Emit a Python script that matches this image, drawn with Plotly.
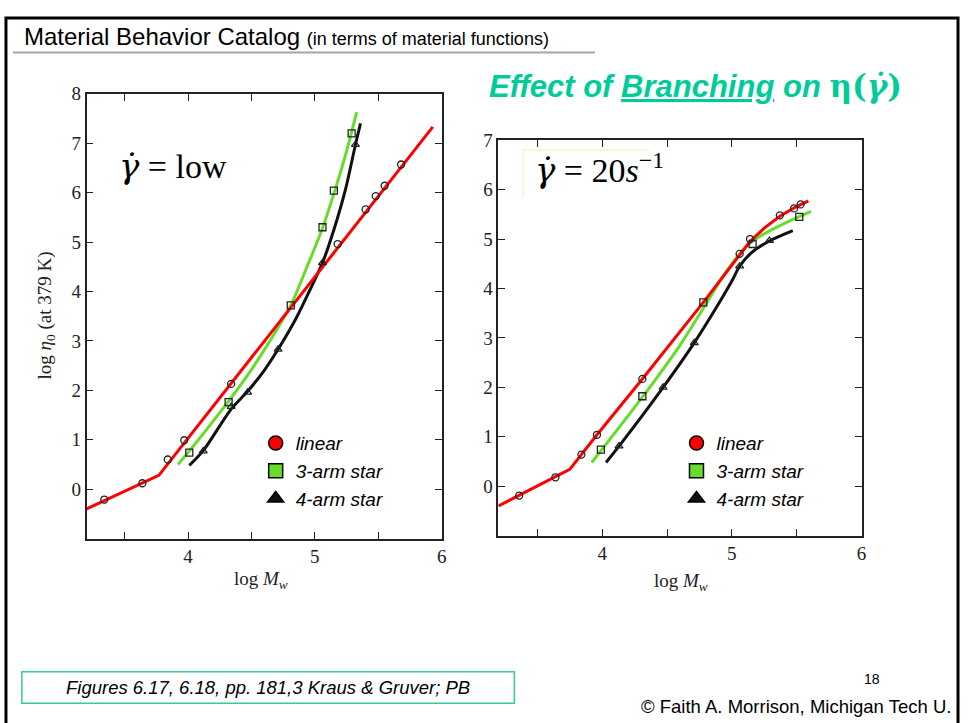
import plotly.graph_objects as go

# ---- zero-shear (low rate) viscosity vs molecular weight ----
lin_low_x = [3.20, 3.77, 5.93]
lin_low_y = [-0.40, 0.28, 7.33]
arm3_low_x = [3.92, 4.00, 4.15, 4.32, 4.50, 4.66, 4.81, 4.93, 5.06, 5.15, 5.24, 5.33]
arm3_low_y = [0.50, 0.74, 1.22, 1.78, 2.42, 3.06, 3.72, 4.45, 5.28, 5.98, 6.75, 7.63]
arm4_low_x = [4.01, 4.12, 4.34, 4.47, 4.60, 4.71, 4.85, 4.97, 5.06, 5.15, 5.24, 5.32, 5.36]
arm4_low_y = [0.48, 0.78, 1.62, 1.98, 2.40, 2.83, 3.45, 4.08, 4.58, 5.25, 6.05, 6.97, 7.40]

circ_low_x = [3.34, 3.64, 3.84, 3.97, 4.34, 5.18, 5.40, 5.48, 5.55, 5.68]
circ_low_y = [-0.21, 0.12, 0.60, 0.99, 2.13, 4.96, 5.66, 5.93, 6.14, 6.57]
sq_low_x = [4.01, 4.32, 4.81, 5.06, 5.15, 5.29]
sq_low_y = [0.74, 1.76, 3.72, 5.30, 6.04, 7.20]
tri_low_x = [4.12, 4.34, 4.47, 4.71, 5.06, 5.32]
tri_low_y = [0.77, 1.67, 1.96, 2.83, 4.58, 6.97]

# ---- viscosity at 20 1/s ----
lin_hi_x = [3.20, 3.75, 3.96, 4.31, 4.78, 5.00, 5.07, 5.14, 5.25, 5.37, 5.48, 5.59]
lin_hi_y = [-0.40, 0.34, 1.04, 2.17, 3.72, 4.48, 4.72, 4.95, 5.22, 5.46, 5.63, 5.77]
arm3_hi_x = [3.92, 4.31, 4.60, 4.78, 4.95, 5.06, 5.14, 5.22, 5.37, 5.50, 5.61]
arm3_hi_y = [0.48, 1.80, 2.85, 3.60, 4.32, 4.70, 4.92, 5.06, 5.27, 5.43, 5.56]
arm4_hi_x = [4.03, 4.13, 4.47, 4.71, 4.90, 5.00, 5.06, 5.15, 5.29, 5.47]
arm4_hi_y = [0.48, 0.81, 2.00, 2.90, 3.70, 4.15, 4.45, 4.72, 4.96, 5.17]

circ_hi_x = [3.36, 3.64, 3.84, 3.96, 4.31, 5.06, 5.14, 5.37, 5.48, 5.53]
circ_hi_y = [-0.19, 0.18, 0.64, 1.04, 2.17, 4.70, 5.00, 5.48, 5.62, 5.70]
sq_hi_x = [3.99, 4.31, 4.78, 5.16, 5.52]
sq_hi_y = [0.74, 1.82, 3.72, 4.90, 5.45]
tri_hi_x = [4.13, 4.47, 4.71, 5.06, 5.29]
tri_hi_y = [0.81, 2.00, 2.90, 4.45, 4.97]

series_names = ["linear", "3-arm star", "4-arm star"]
x_tick_vals = [3.5, 4, 4.5, 5, 5.5, 6]
x_tick_text = ["", "4", "", "5", "", "6"]

W, H = 968, 723
RED, GREEN, BLACK = "#ff0000", "#66dd2a", "#111111"
SERIF = "Liberation Serif, Times New Roman, serif"
SANS = "Liberation Sans, Arial, sans-serif"
GDOT = "<span style='font-family:DejaVu Serif'><i>γ̇</i></span>"


def px(x):
    return x / W


def py(y):
    return 1 - y / H


fig = go.Figure()


def add_panel(xa, ya, legend, lines, points):
    # fitted curves
    for (xs, ys, col, shape) in lines:
        fig.add_trace(go.Scatter(x=xs, y=ys, mode="lines", xaxis=xa, yaxis=ya,
                                 line=dict(color=col, width=3, shape=shape, smoothing=0.8),
                                 showlegend=False, hoverinfo="skip"))
    # measured points (open symbols)
    for (xs, ys, sym) in points:
        fig.add_trace(go.Scatter(x=xs, y=ys, mode="markers", xaxis=xa, yaxis=ya,
                                 marker=dict(symbol=sym, size=7, color="#222222",
                                             line=dict(width=1.3, color="#222222")),
                                 showlegend=False, hoverinfo="skip"))
    # legend keys
    keys = [("circle", RED), ("square", GREEN), ("triangle-up", BLACK)]
    for name, (sym, col) in zip(series_names, keys):
        fig.add_trace(go.Scatter(x=[None], y=[None], mode="markers", xaxis=xa, yaxis=ya,
                                 name="<i>" + name + "</i>", legend=legend,
                                 marker=dict(symbol=sym, size=14, color=col,
                                             line=dict(width=1.5, color="black"))))


add_panel("x", "y", "legend",
          [(arm4_low_x, arm4_low_y, BLACK, "spline"),
           (arm3_low_x, arm3_low_y, GREEN, "spline"),
           (lin_low_x, lin_low_y, RED, "linear")],
          [(circ_low_x, circ_low_y, "circle-open"),
           (sq_low_x, sq_low_y, "square-open"),
           (tri_low_x, tri_low_y, "triangle-up-open")])

add_panel("x2", "y2", "legend2",
          [(arm4_hi_x, arm4_hi_y, BLACK, "spline"),
           (arm3_hi_x, arm3_hi_y, GREEN, "spline"),
           (lin_hi_x, lin_hi_y, RED, "linear")],
          [(circ_hi_x, circ_hi_y, "circle-open"),
           (sq_hi_x, sq_hi_y, "square-open"),
           (tri_hi_x, tri_hi_y, "triangle-up-open")])

axis_common = dict(showgrid=False, zeroline=False, showline=True, linecolor="#222222",
                   linewidth=1.5, mirror="ticks", ticks="inside", ticklen=7,
                   tickcolor="#222222", tickfont=dict(family=SERIF, size=19, color="#222222"))

legend_style = dict(xanchor="left", yanchor="top", bgcolor="rgba(0,0,0,0)", tracegroupgap=0,
                    font=dict(family=SANS, size=19, color="black"))

fig.update_layout(
    width=W, height=H, margin=dict(l=0, r=0, t=0, b=0),
    paper_bgcolor="white", plot_bgcolor="white",
    xaxis=dict(domain=[px(87), px(444)], range=[3.2, 6], anchor="y",
               tickvals=x_tick_vals, ticktext=x_tick_text, **axis_common),
    yaxis=dict(domain=[py(536), py(85)], range=[-1, 8], anchor="x",
               tickvals=list(range(0, 9)), **axis_common),
    xaxis2=dict(domain=[px(501), px(866)], range=[3.2, 6], anchor="y2",
                tickvals=x_tick_vals, ticktext=x_tick_text, **axis_common),
    yaxis2=dict(domain=[py(533), py(132)], range=[-1, 7], anchor="x2",
                tickvals=list(range(0, 8)), **axis_common),
    legend=dict(x=px(257), y=py(420), **legend_style),
    legend2=dict(x=px(680), y=py(420), **legend_style),
)

annotations = [
    dict(x=px(22), y=py(27), xanchor="left", yanchor="middle",
         text="Material Behavior Catalog <span style='font-size:18px'>(in terms of material functions)</span>",
         font=dict(family=SANS, size=24, color="black")),
    dict(x=px(490), y=py(77), xanchor="left", yanchor="middle",
         text="<b><i>Effect of <u>Branching</u> on </i>"
              "<span style='font-family:DejaVu Serif'>η(<i>γ̇</i>)</span></b>",
         font=dict(family=SANS, size=31, color="#00cc99")),
    dict(x=px(118), y=py(158), xanchor="left", yanchor="middle",
         text=GDOT + " = low", font=dict(family=SERIF, size=34, color="black")),
    dict(x=px(536), y=py(161), xanchor="left", yanchor="middle",
         text=GDOT + " = 20<i>s</i><sup>−1</sup>", font=dict(family=SERIF, size=34, color="black")),
    dict(x=px(46), y=py(310), xanchor="center", yanchor="middle", textangle=-90,
         text="log <i>η</i><sub>0</sub> (at 379 K)", font=dict(family=SERIF, size=19, color="#222222")),
    dict(x=px(262), y=py(578), xanchor="center", yanchor="middle",
         text="log <i>M<sub>w</sub></i>", font=dict(family=SERIF, size=19, color="#222222")),
    dict(x=px(685), y=py(580), xanchor="center", yanchor="middle",
         text="log <i>M<sub>w</sub></i>", font=dict(family=SERIF, size=19, color="#222222")),
    dict(x=px(269), y=py(687), xanchor="center", yanchor="middle",
         text="<i>Figures 6.17, 6.18, pp. 181,3 Kraus &amp; Gruver; PB</i>",
         font=dict(family=SANS, size=18.5, color="black")),
    dict(x=px(877), y=py(678), xanchor="center", yanchor="middle",
         text="18", font=dict(family=SANS, size=14, color="black")),
    dict(x=px(800), y=py(706), xanchor="center", yanchor="middle",
         text="© Faith A. Morrison, Michigan Tech U.", font=dict(family=SANS, size=18.5, color="black")),
]
for a in annotations:
    a.update(xref="paper", yref="paper", showarrow=False)
fig.update_layout(annotations=annotations)

shapes = [
    # slide frame
    dict(type="rect", x0=px(6), x1=px(963), y0=-0.05, y1=py(8),
         line=dict(color="black", width=3)),
    # header rule
    dict(type="line", x0=px(13), x1=px(598), y0=py(43), y1=py(43),
         line=dict(color="#a6a6a6", width=2)),
    # citation box
    dict(type="rect", x0=px(22), x1=px(517), y0=py(703), y1=py(671),
         line=dict(color="#33cc99", width=1.5)),
    # faint frame around the shear-rate label
    dict(type="line", x0=px(526), x1=px(653), y0=py(142), y1=py(142),
         line=dict(color="#f8f4c8", width=1.5)),
    dict(type="line", x0=px(526), x1=px(526), y0=py(142), y1=py(190),
         line=dict(color="#f8f4c8", width=1.5)),
]
for s in shapes:
    s.update(xref="paper", yref="paper")
fig.update_layout(shapes=shapes)

fig.write_html("out.html")
